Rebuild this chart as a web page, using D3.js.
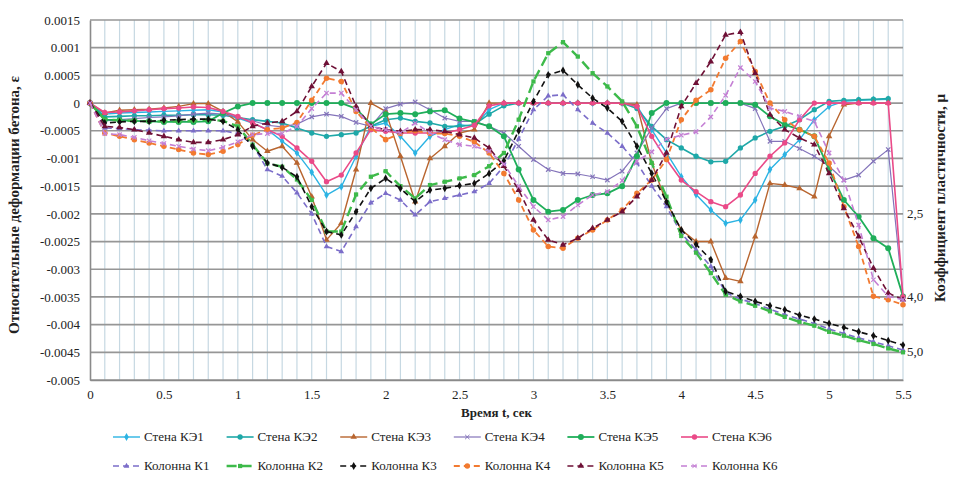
<!DOCTYPE html>
<html>
<head>
<meta charset="utf-8">
<script src="https://cdn.jsdelivr.net/npm/d3@7"></script>
<style>
  body { margin: 0; background: #fff; }
</style>
</head>
<body>
<svg id="chart" width="954" height="486"></svg>
<script>
// time, s
const times = [0, 0.1, 0.2, 0.3, 0.4, 0.5, 0.6, 0.7, 0.8, 0.9,
  1.0, 1.1, 1.2, 1.3, 1.4, 1.5, 1.6, 1.7, 1.8, 1.9,
  2.0, 2.1, 2.2, 2.3, 2.4, 2.5, 2.6, 2.7, 2.8, 2.9,
  3.0, 3.1, 3.2, 3.3, 3.4, 3.5, 3.6, 3.7, 3.8, 3.9,
  4.0, 4.1, 4.2, 4.3, 4.4, 4.5, 4.6, 4.7, 4.8, 4.9,
  5.0, 5.1, 5.2, 5.3, 5.4, 5.5];

// strains in units of 1e-4
const wallKE1 = [0, -2.0, -1.8, -1.7, -1.6, -1.5, -1.4, -1.3, -1.2, -1.6,
  -2.7, -3.6, -4.8, -6.9, -9.0, -12.5, -16.6, -15.1, -9.6, -4.2,
  -3.6, -6.0, -9.0, -6.0, -4.8, -3.9, -4.2, -1.2, 0, 0,
  0, 0, 0, 0, 0, 0, 0, -0.5, -4.8, -9.0,
  -13.3, -16.5, -19.3, -21.7, -21.1, -17.5, -12.0, -9.3, -6.6, -3.0,
  -0.6, 0.3, 0.5, 0.6, 0.7, null];
const wallKE2 = [0, -2.5, -2.4, -2.3, -2.3, -2.2, -2.2, -2.1, -2.1, -2.2,
  -2.6, -3.0, -3.3, -3.6, -4.5, -5.4, -6.0, -5.7, -5.4, -4.2,
  -3.0, -2.7, -3.3, -3.6, -4.2, -4.2, -3.9, -2.0, -0.5, 0,
  0, 0, 0, 0, 0, 0, 0, -1.0, -4.2, -6.6,
  -8.1, -9.6, -10.6, -10.5, -8.1, -6.3, -5.1, -4.2, -3.0, -1.2,
  0.3, 0.5, 0.6, 0.7, 0.8, null];
const wallKE3 = [0, -1.8, -1.3, -1.2, -1.1, -0.9, -0.6, -0.1, -0.1, -1.5,
  -3.4, -6.6, -8.7, -7.8, -10.8, -16.9, -24.7, -21.7, -12.0, 0,
  -1.5, -9.6, -17.8, -10.0, -7.8, -5.4, -4.8, 0, 0, 0,
  0, 0, 0, 0, 0, 0, 0, -0.3, -10.8, -18.0,
  -22.9, -25.0, -25.0, -31.6, -32.2, -24.1, -14.5, -14.8, -15.4, -16.9,
  -6.0, -0.3, 0, 0, 0, null];
const wallKE4 = [0, -3.2, -3.0, -2.8, -2.6, -2.5, -2.3, -2.0, -1.8, -2.0,
  -2.6, -3.2, -4.0, -4.3, -3.8, -2.5, -2.0, -2.4, -3.5, -4.2,
  -1.0, -0.2, 0.2, -1.2, -2.7, -3.3, -3.3, -4.2, -5.4, -7.8,
  -10.2, -12.0, -12.7, -12.8, -13.3, -13.9, -12.3, -9.0, -4.5, -1.0,
  0, 0, 0, 0, 0, -1.0, -6.9, -6.9, -8.2, -9.6,
  -11.4, -13.9, -13.0, -10.5, -8.4, -35.0];
const wallKE5 = [0, -3.0, -3.1, -3.2, -3.3, -3.4, -3.4, -3.4, -3.3, -1.8,
  -0.6, 0, 0, 0, 0, 0, 0, 0, -1.0, -3.8,
  -2.0, -1.8, -2.0, -1.5, -1.3, -2.8, -3.4, -4.2, -6.0, -12.0,
  -17.5, -19.6, -19.3, -17.5, -16.6, -16.3, -15.0, -9.6, -1.8, 0,
  0, 0, 0, 0, 0, -0.3, -2.4, -3.9, -4.8, -6.0,
  -12.0, -17.5, -20.5, -24.4, -26.2, -34.9];
const wallKE6 = [0, -1.7, -1.6, -1.4, -1.2, -1.0, -0.9, -0.7, -0.8, -1.5,
  -2.4, -3.6, -4.8, -6.0, -8.1, -10.5, -14.2, -13.0, -9.0, -4.8,
  -5.1, -5.4, -5.4, -5.4, -5.4, -4.8, -4.0, -0.5, 0, 0,
  0, 0, 0, 0, 0, 0, 0, -0.6, -6.0, -10.2,
  -13.9, -16.0, -17.8, -18.7, -16.6, -12.7, -9.6, -7.2, -3.0, 0,
  0, 0, 0, 0, 0, -35.0];
const colK1 = [0, -4.5, -4.6, -4.8, -4.9, -5.0, -5.0, -5.0, -5.0, -5.0,
  -5.5, -7.5, -12.0, -13.2, -16.2, -20.0, -25.9, -26.8, -22.3, -18.0,
  -16.3, -17.5, -20.2, -17.8, -17.2, -16.6, -16.0, -14.5, -11.4, -6.5,
  -1.2, 1.3, 1.5, -1.2, -3.6, -5.4, -7.8, -10.8, -15.0, -18.7,
  -23.5, -26.5, -29.5, -34.2, -35.4, -36.2, -37.2, -38.2, -39.0, -39.8,
  -40.8, -41.6, -42.4, -43.1, -43.8, -44.6];
const colK2 = [0, -3.0, -3.1, -3.2, -3.3, -3.3, -3.3, -3.2, -3.0, -3.2,
  -4.2, -7.5, -10.9, -11.5, -13.8, -17.5, -23.2, -23.2, -16.5, -13.3,
  -12.3, -15.0, -17.2, -14.8, -14.2, -13.6, -13.0, -11.4, -9.0, -3.0,
  3.9, 9.0, 11.0, 8.4, 5.4, 3.0, 0.3, -4.2, -10.8, -16.9,
  -24.0, -27.0, -30.7, -34.6, -35.8, -36.6, -37.6, -38.6, -39.5, -40.2,
  -41.3, -42.0, -42.8, -43.5, -44.3, -45.0];
const colK3 = [0, -3.6, -3.4, -3.3, -3.3, -3.1, -3.0, -2.9, -2.9, -3.3,
  -4.8, -7.8, -10.8, -11.6, -13.3, -18.7, -23.2, -23.8, -19.6, -15.4,
  -13.6, -15.4, -17.8, -15.7, -15.4, -14.9, -14.5, -12.7, -10.4, -5.0,
  0.3, 5.1, 5.9, 3.3, 0.9, -0.9, -3.3, -7.8, -12.7, -17.8,
  -22.9, -25.5, -28.3, -34.0, -34.9, -35.8, -36.6, -37.3, -38.3, -39.0,
  -39.8, -40.5, -41.3, -42.0, -42.9, -43.7];
const colK4 = [0, -5.4, -6.0, -6.6, -7.2, -7.8, -8.4, -9.0, -9.3, -8.7,
  -7.5, -5.8, -4.8, -4.5, -3.5, 0.5, 4.5, 3.9, -1.5, -4.5,
  -6.6, -5.5, -5.0, -5.5, -5.5, -6.0, -7.0, -9.0, -12.7, -17.5,
  -22.9, -25.9, -26.2, -24.4, -22.9, -21.1, -19.3, -16.3, -13.9, -10.2,
  -3.0, 0.5, 2.4, 8.1, 11.1, 5.7, 0, -3.0, -4.8, -6.0,
  -10.8, -18.7, -25.9, -34.9, -35.5, -36.4];
const colK5 = [0, -4.2, -4.4, -4.8, -5.4, -6.0, -6.6, -7.1, -7.1, -6.6,
  -5.7, -4.2, -3.6, -3.3, -1.5, 3.0, 7.2, 5.7, -0.6, -4.2,
  -4.8, -5.1, -4.8, -4.8, -5.1, -5.7, -6.3, -8.1, -11.4, -15.7,
  -21.1, -24.7, -25.6, -24.4, -22.6, -21.1, -19.6, -16.9, -13.9, -9.0,
  -0.6, 3.6, 7.5, 12.3, 12.8, 5.4, -2.1, -4.8, -6.3, -7.5,
  -12.7, -19.0, -24.1, -29.8, -34.3, -35.5];
const colK6 = [0, -5.5, -5.7, -6.2, -6.8, -7.3, -7.8, -8.3, -8.6, -8.0,
  -7.0, -5.7, -5.5, -5.5, -4.2, -1.0, 1.8, 1.8, -1.2, -4.2,
  -4.8, -5.4, -3.6, -5.4, -6.6, -7.5, -7.8, -8.7, -11.0, -15.0,
  -18.7, -21.1, -20.5, -18.4, -16.6, -16.0, -14.0, -10.5, -8.8, -6.5,
  -5.8, -5.2, -2.5, 1.4, 6.4, 3.9, -0.9, -1.5, -2.4, -3.3,
  -9.0, -13.9, -22.0, -31.9, -34.9, -35.5];

const seriesNames = ["Стена КЭ1", "Стена КЭ2", "Стена КЭ3", "Стена КЭ4", "Стена КЭ5", "Стена КЭ6",
  "Колонна К1", "Колонна К2", "Колонна К3", "Колонна К4", "Колонна К5", "Колонна К6"];
const seriesValues = [wallKE1, wallKE2, wallKE3, wallKE4, wallKE5, wallKE6,
  colK1, colK2, colK3, colK4, colK5, colK6];

const xTicks = [0, 0.5, 1, 1.5, 2, 2.5, 3, 3.5, 4, 4.5, 5, 5.5];
const xTickLabels = ["0", "0.5", "1", "1.5", "2", "2.5", "3", "3.5", "4", "4.5", "5", "5.5"];
const yTicks = [15, 10, 5, 0, -5, -10, -15, -20, -25, -30, -35, -40, -45, -50];
const yTickLabels = ["0.0015", "0.001", "0.0005", "0", "-0.0005", "-0.001", "-0.0015", "-0.002",
  "-0.0025", "-0.003", "-0.0035", "-0.004", "-0.0045", "-0.005"];
const muTicks = [-20, -35, -45];
const muLabels = ["2,5", "4,0", "5,0"];

// styles
const serif = '"Liberation Serif", "DejaVu Serif", serif';
const colors = ["#2bb3e3", "#1ea8a8", "#b8652f", "#8474ba", "#1fae5a", "#ea4a88",
  "#7b6dc9", "#3dba4a", "#111111", "#f27a30", "#6e1036", "#c47fd4"];
const dashes = [null, null, null, null, null, null, "6,4", "10,5", "6,4", "6,4", "6,4", "6,4"];
const widths = [1.4, 1.6, 1.4, 1.2, 1.8, 1.6, 1.6, 2.4, 1.6, 1.8, 1.6, 1.6];
const crossSym = d3.symbolTimes || d3.symbolCross;
const symbols = [d3.symbolDiamond, d3.symbolCircle, d3.symbolTriangle, crossSym,
  d3.symbolCircle, d3.symbolCircle, d3.symbolTriangle, d3.symbolSquare, d3.symbolDiamond,
  d3.symbolCircle, d3.symbolTriangle, crossSym];
const symSizes = [18, 22, 18, 14, 28, 22, 14, 18, 18, 24, 18, 14];

const plotLeft = 90, plotRight = 903, plotTop = 20, plotBottom = 380;

const svg = d3.select("#chart");

const x = d3.scaleLinear().domain([0, 5.5]).range([plotLeft, plotRight]);
const y = d3.scaleLinear().domain([-50, 15]).range([plotBottom, plotTop]);

// minor vertical grid every 0.1 s
svg.append("g")
    .selectAll("line")
    .data(times.slice(1))
    .enter()
    .append("line")
    .attr("x1", d => x(d)).attr("x2", d => x(d))
    .attr("y1", plotTop).attr("y2", plotBottom)
    .attr("stroke", "#c6d8e2")
    .attr("stroke-width", 1.2);

// horizontal grid
svg.append("g")
    .selectAll("line")
    .data(yTicks)
    .enter()
    .append("line")
    .attr("x1", plotLeft).attr("x2", plotRight)
    .attr("y1", d => y(d)).attr("y2", d => y(d))
    .attr("stroke", "#969696")
    .attr("stroke-width", 1.7);

// axes
const yAxis = d3.axisLeft(y).tickValues(yTicks).tickFormat((d, i) => yTickLabels[i]).tickSize(0).tickPadding(10);
const gy = svg.append("g").attr("transform", `translate(${plotLeft},0)`).call(yAxis);
gy.select(".domain").attr("stroke", "#8a8a8a").attr("stroke-width", 1.6);
gy.selectAll("text").style("font-size", "13px").attr("fill", "#222");

const xAxis = d3.axisBottom(x).tickValues(xTicks).tickFormat((d, i) => xTickLabels[i]).tickSize(0).tickPadding(10);
const gx = svg.append("g").attr("transform", `translate(0,${plotBottom})`).call(xAxis);
gx.select(".domain").attr("stroke", "#8a8a8a").attr("stroke-width", 1.6);
gx.selectAll("text").style("font-size", "13px").attr("fill", "#222");

// right-hand ductility labels
svg.append("g")
    .selectAll("text")
    .data(muTicks)
    .enter()
    .append("text")
    .attr("x", plotRight + 4)
    .attr("y", d => y(d) + 4)
    .text((d, i) => muLabels[i])
    .style("font-size", "13px")
    .attr("fill", "#222");

// series
const line = d3.line()
    .defined(d => d.v !== null)
    .x(d => x(d.t))
    .y(d => y(d.v));

const series = seriesNames.map((name, i) => ({
    name,
    i,
    pts: times.map((t, j) => ({ t, v: seriesValues[i][j] }))
}));

const g = svg.append("g");
series.forEach(s => {
    const i = s.i;
    g.append("path")
        .datum(s.pts)
        .attr("d", line)
        .attr("fill", "none")
        .attr("stroke", colors[i])
        .attr("stroke-width", widths[i])
        .attr("stroke-dasharray", dashes[i])
        .attr("stroke-linejoin", "round");
    const stroked = symbols[i] === crossSym;
    g.append("g")
        .selectAll("path")
        .data(s.pts.filter(d => d.v !== null))
        .enter()
        .append("path")
        .attr("transform", d => `translate(${x(d.t)},${y(d.v)})`)
        .attr("d", d3.symbol().type(symbols[i]).size(symSizes[i]))
        .attr("fill", stroked ? "none" : colors[i])
        .attr("stroke", stroked ? colors[i] : "none")
        .attr("stroke-width", 1.2);
});

// axis titles
svg.append("text")
    .attr("transform", "translate(19,205) rotate(-90)")
    .attr("text-anchor", "middle")
    .style("font-size", "15px")
    .style("font-weight", "bold")
    .attr("fill", "#222")
    .text("Относительные деформации бетона, ε");

svg.append("text")
    .attr("transform", "translate(945,198) rotate(-90)")
    .attr("text-anchor", "middle")
    .style("font-size", "15px")
    .style("font-weight", "bold")
    .attr("fill", "#222")
    .text("Коэффициент пластичности, μ");

svg.append("text")
    .attr("x", (plotLeft + plotRight) / 2)
    .attr("y", 417)
    .attr("text-anchor", "middle")
    .style("font-size", "13px")
    .style("font-weight", "bold")
    .attr("fill", "#222")
    .text("Время t, сек");

// legend
const legend = svg.append("g");
series.forEach(s => {
    const i = s.i;
    const lx = 113 + (i % 6) * 113.6;
    const ly = i < 6 ? 437 : 466;
    const item = legend.append("g").attr("transform", `translate(${lx},${ly})`);
    item.append("line")
        .attr("x1", 0).attr("x2", 27)
        .attr("y1", 0).attr("y2", 0)
        .attr("stroke", colors[i])
        .attr("stroke-width", widths[i])
        .attr("stroke-dasharray", dashes[i]);
    const stroked = symbols[i] === crossSym;
    item.append("path")
        .attr("transform", "translate(13.5,0)")
        .attr("d", d3.symbol().type(symbols[i]).size(symSizes[i]))
        .attr("fill", stroked ? "none" : colors[i])
        .attr("stroke", stroked ? colors[i] : "none");
    item.append("text")
        .attr("x", 31)
        .attr("y", 4)
        .style("font-size", "13px")
        .attr("fill", "#222")
        .text(s.name);
});

svg.selectAll("text").style("font-family", serif);
</script>
</body>
</html>
